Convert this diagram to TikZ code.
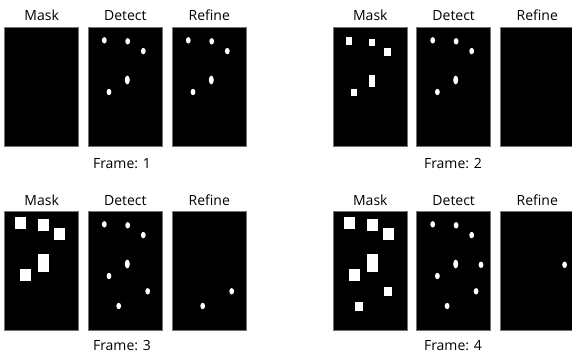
\documentclass[tikz,border=0pt]{standalone}
\usepackage{fontspec}
\setmainfont{Open Sans}
\begin{document}
\begin{tikzpicture}[x=1pt,y=-1pt,
  panel/.style={fill=black,draw=black!55,line width=0.5pt,minimum width=74pt,minimum height=119pt,anchor=north west,inner sep=0pt,outer sep=0pt},
  lbl/.style={anchor=base,inner sep=0pt,font=\fontsize{14}{16}\selectfont},
]
\newcommand\dotS[2]{\fill[white] (#1,#2) ellipse [x radius=2.4, y radius=3.2];}
\newcommand\dotL[2]{\fill[white] (#1,#2) ellipse [x radius=2.5, y radius=4.4];}
\newcommand\sqr[4]{\fill[white] (#1-#3/2,#2-#4/2) rectangle ++(#3,#4);}
\newcommand\baseDots{\dotS{16}{12.8}\dotS{39.4}{13.8}\dotS{55}{23.6}\dotL{39}{52.5}\dotS{20.7}{64.5}}
\newcommand\bigSq{\sqr{15.8}{11.7}{11}{12}\sqr{38.8}{13.2}{11}{12}\sqr{54.8}{22.7}{11}{12}\sqr{38.8}{51.7}{11}{18.3}\sqr{20.8}{63.7}{11}{12}}
\useasboundingbox (0,0) rectangle (572,357);
\clip (0,0) rectangle (572,357);
% panels
\node[panel] (m1) at (4.7,27.5) {};
\node[panel] (d1) at (88.3,27.5) {};
\node[panel] (r1) at (172.3,27.5) {};
\node[panel] (m2) at (333.3,27.5) {};
\node[panel] (d2) at (416.7,27.5) {};
\node[panel] (r2) at (500.3,27.5) {};
\node[panel] (m3) at (4.7,211.5) {};
\node[panel] (d3) at (88.3,211.5) {};
\node[panel] (r3) at (172.3,211.5) {};
\node[panel] (m4) at (333.3,211.5) {};
\node[panel] (d4) at (416.7,211.5) {};
\node[panel] (r4) at (500.3,211.5) {};
% titles
\foreach \p/\t in {m/Mask,d/Detect,r/Refine}{
  \foreach \k/\yy in {1/20.5,2/20.5,3/205,4/205}{
    \path (\p\k.north) coordinate (tmp);
    \node[lbl] (t\p\k) at (tmp |- 0,\yy) {\t};
  }
}
\node[lbl] (f1) at (122,168) {Frame: 1};
\node[lbl] (f2) at (453,168) {Frame: 2};
\node[lbl] (f3) at (122,350) {Frame: 3};
\node[lbl] (f4) at (453,350) {Frame: 4};
% frame 1
\begin{scope}[shift={(d1.north west)}] \baseDots \end{scope}
\begin{scope}[shift={(r1.north west)}] \baseDots \end{scope}
% frame 2
\begin{scope}[shift={(m2.north west)}]
  \sqr{15.7}{13.5}{6.7}{7.9}\sqr{38.7}{15}{6.7}{7.9}\sqr{54.2}{24.5}{6.7}{7.9}
  \sqr{38.7}{53.5}{6.7}{11.3}\sqr{20.7}{65}{6.7}{7.9}
\end{scope}
\begin{scope}[shift={(d2.north west)}] \baseDots \end{scope}
% frame 3
\begin{scope}[shift={(m3.north west)}] \bigSq \end{scope}
\begin{scope}[shift={(d3.north west)}] \baseDots \dotS{59.4}{79.8}\dotS{30.4}{94.5} \end{scope}
\begin{scope}[shift={(r3.north west)}] \dotS{59.4}{79.8}\dotS{30.4}{94.5} \end{scope}
% frame 4
\begin{scope}[shift={(m4.north west)}] \bigSq \sqr{54.7}{79.7}{7.4}{8.6}\sqr{25.5}{95.2}{7.4}{8.6} \end{scope}
\begin{scope}[shift={(d4.north west)}] \baseDots \dotS{59.4}{79.8}\dotS{30.4}{94.5}\dotS{64.3}{53.3} \end{scope}
\begin{scope}[shift={(r4.north west)}] \dotS{64.3}{53.3} \end{scope}
\end{tikzpicture}
\end{document}
